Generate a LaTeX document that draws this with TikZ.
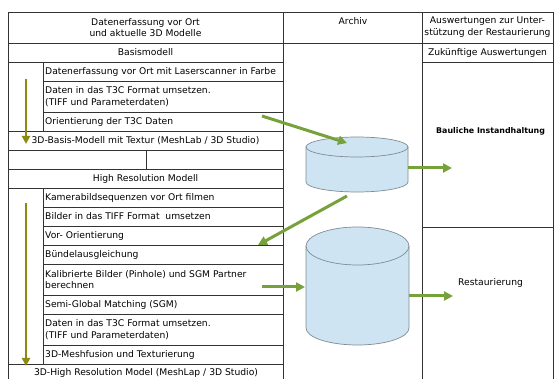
\documentclass[tikz,border=0pt]{standalone}
\usepackage{fontspec}
\setmainfont{DejaVu Sans}
\usetikzlibrary{arrows.meta}
\definecolor{gridc}{HTML}{333333}
\definecolor{arrg}{HTML}{77A23B}
\definecolor{olivec}{HTML}{8C8A12}
\definecolor{cylf}{HTML}{CFE4F2}
\definecolor{cyls}{HTML}{7F8C94}
\begin{document}
\begin{tikzpicture}[x=1pt,y=-1pt,
  grid/.style={draw=gridc,line width=0.9pt},
  txt/.style={font=\fontsize{9.2}{11.5}\selectfont,inner sep=0pt,text=black},
  rowtxt/.style={txt,anchor=west,align=left},
  ctxt/.style={txt,align=center},
  garrow/.style={draw=arrg,line width=3pt,-{Triangle[length=9pt,width=9pt]}},
  oarrow/.style={draw=olivec,line width=2.6pt,-{Triangle[length=8pt,width=8pt]}},
  cylbody/.style={fill=cylf},
  cylline/.style={draw=cyls,line width=0.7pt}]
\useasboundingbox (0,0) rectangle (555,379);
\fill[white] (0,0) rectangle (555,379);
\begin{scope}
\clip (0,0) rectangle (555,379);
% outer frame and columns
\draw[grid] (8,385) -- (8,12) -- (553,12) -- (553,385);
\draw[grid] (283.5,12) -- (283.5,385);
\draw[grid] (422,12) -- (422,385);
% full-width horizontal lines in left column
\foreach \y in {43,62,131,150,169,188,364}
  \draw[grid] (8,\y) -- (283.5,\y);
% inner horizontal lines
\foreach \y in {81,112,207,226,245,264,295,314,345}
  \draw[grid] (43,\y) -- (283.5,\y);
\draw[grid] (43,62) -- (43,131);
\draw[grid] (43,188) -- (43,364);
\draw[grid] (146,150) -- (146,169);
% archive and right column
\draw[grid] (283.5,43) -- (553,43);
\draw[grid] (422,62) -- (553,62);
\draw[grid] (422,227) -- (553,227);
\end{scope}
% header texts
\node[ctxt] (h1) at (145.5,27.5) {Datenerfassung vor Ort\\und aktuelle 3D Modelle};
\node[ctxt] (h2) at (353,21) {Archiv};
\node[ctxt] (h3) at (487.5,27) {Auswertungen zur Unter-\\stützung der Restaurierung};
\node[ctxt] (basis) at (145.5,52.5) {Basismodell};
\node[ctxt] (zuk) at (487.5,52.5) {Zukünftige Auswertungen};
% basis rows
\node[rowtxt] (ra) at (45,71.5) {Datenerfassung vor Ort mit Laserscanner in Farbe};
\node[rowtxt] (rb) at (45,96.5) {Daten in das T3C Format umsetzen.\\(TIFF und Parameterdaten)};
\node[rowtxt] (rc) at (45,121.5) {Orientierung der T3C Daten};
\node[ctxt] (rd) at (145.5,140.5) {3D-Basis-Modell mit Textur (MeshLab / 3D Studio)};
\node[ctxt] (rf) at (145.5,178.5) {High Resolution Modell};
% high resolution rows
\node[rowtxt] (rg) at (45,197.5) {Kamerabildsequenzen vor Ort filmen};
\node[rowtxt] (rh) at (45,216.5) {Bilder in das TIFF Format\ \ umsetzen};
\node[rowtxt] (ri) at (45,235.5) {Vor- Orientierung};
\node[rowtxt] (rj) at (45,254.5) {Bündelausgleichung};
\node[rowtxt] (rk) at (45,279.5) {Kalibrierte Bilder (Pinhole) und SGM Partner\\berechnen};
\node[rowtxt] (rl) at (45,304.5) {Semi-Global Matching (SGM)};
\node[rowtxt] (rm) at (45,329.5) {Daten in das T3C Format umsetzen.\\(TIFF und Parameterdaten)};
\node[rowtxt] (rn) at (45,354.5) {3D-Meshfusion und Texturierung};
\node[ctxt] (ro) at (146,373) {3D-High Resolution Model (MeshLap / 3D Studio)};
% right column texts
\node[txt,font=\fontsize{7.9}{10}\selectfont\bfseries,anchor=west] (bau) at (436,131.5) {Bauliche Instandhaltung};
\node[rowtxt] (rest) at (458,283) {Restaurierung};
% cylinder 1
\path[cylbody] (306,147) -- (306,182) arc[start angle=180,end angle=0,x radius=51,y radius=10] -- (408,147) arc[start angle=0,end angle=-180,x radius=51,y radius=10] -- cycle;
\draw[cylline] (306,147) -- (306,182) arc[start angle=180,end angle=0,x radius=51,y radius=10] -- (408,147);
\draw[cylline] (357,147) ellipse[x radius=51,y radius=10];
% cylinder 2
\path[cylbody] (306,246) -- (306,328) arc[start angle=180,end angle=0,x radius=51.5,y radius=17] -- (409,246) arc[start angle=0,end angle=-180,x radius=51.5,y radius=19] -- cycle;
\draw[cylline] (306,246) -- (306,328) arc[start angle=180,end angle=0,x radius=51.5,y radius=17] -- (409,246);
\draw[cylline] (357.5,246) ellipse[x radius=51.5,y radius=19];
% named connector points
\coordinate (c1in) at (347,143);
\coordinate (c1out) at (347,196);
\coordinate (c1r) at (408,168);
\coordinate (c2in) at (305,287);
\coordinate (c2r) at (409,296);
\coordinate (s1) at (262,116);
\coordinate (t2) at (258,245);
\coordinate (s3) at (262,287);
\coordinate (t4) at (452,168);
\coordinate (t5) at (453,296);
\coordinate (o1s) at (26,79);
\coordinate (o1e) at (26,144);
\coordinate (o2s) at (26,203);
\coordinate (o2e) at (26,366);
% arrows
\draw[garrow] (s1) -- (c1in);
\draw[garrow] (c1out) -- (t2);
\draw[garrow] (s3) -- (c2in);
\draw[garrow] (c1r) -- (t4);
\draw[garrow] (c2r) -- (t5);
\draw[oarrow] (o1s) -- (o1e);
\draw[oarrow] (o2s) -- (o2e);
\end{tikzpicture}
\end{document}
